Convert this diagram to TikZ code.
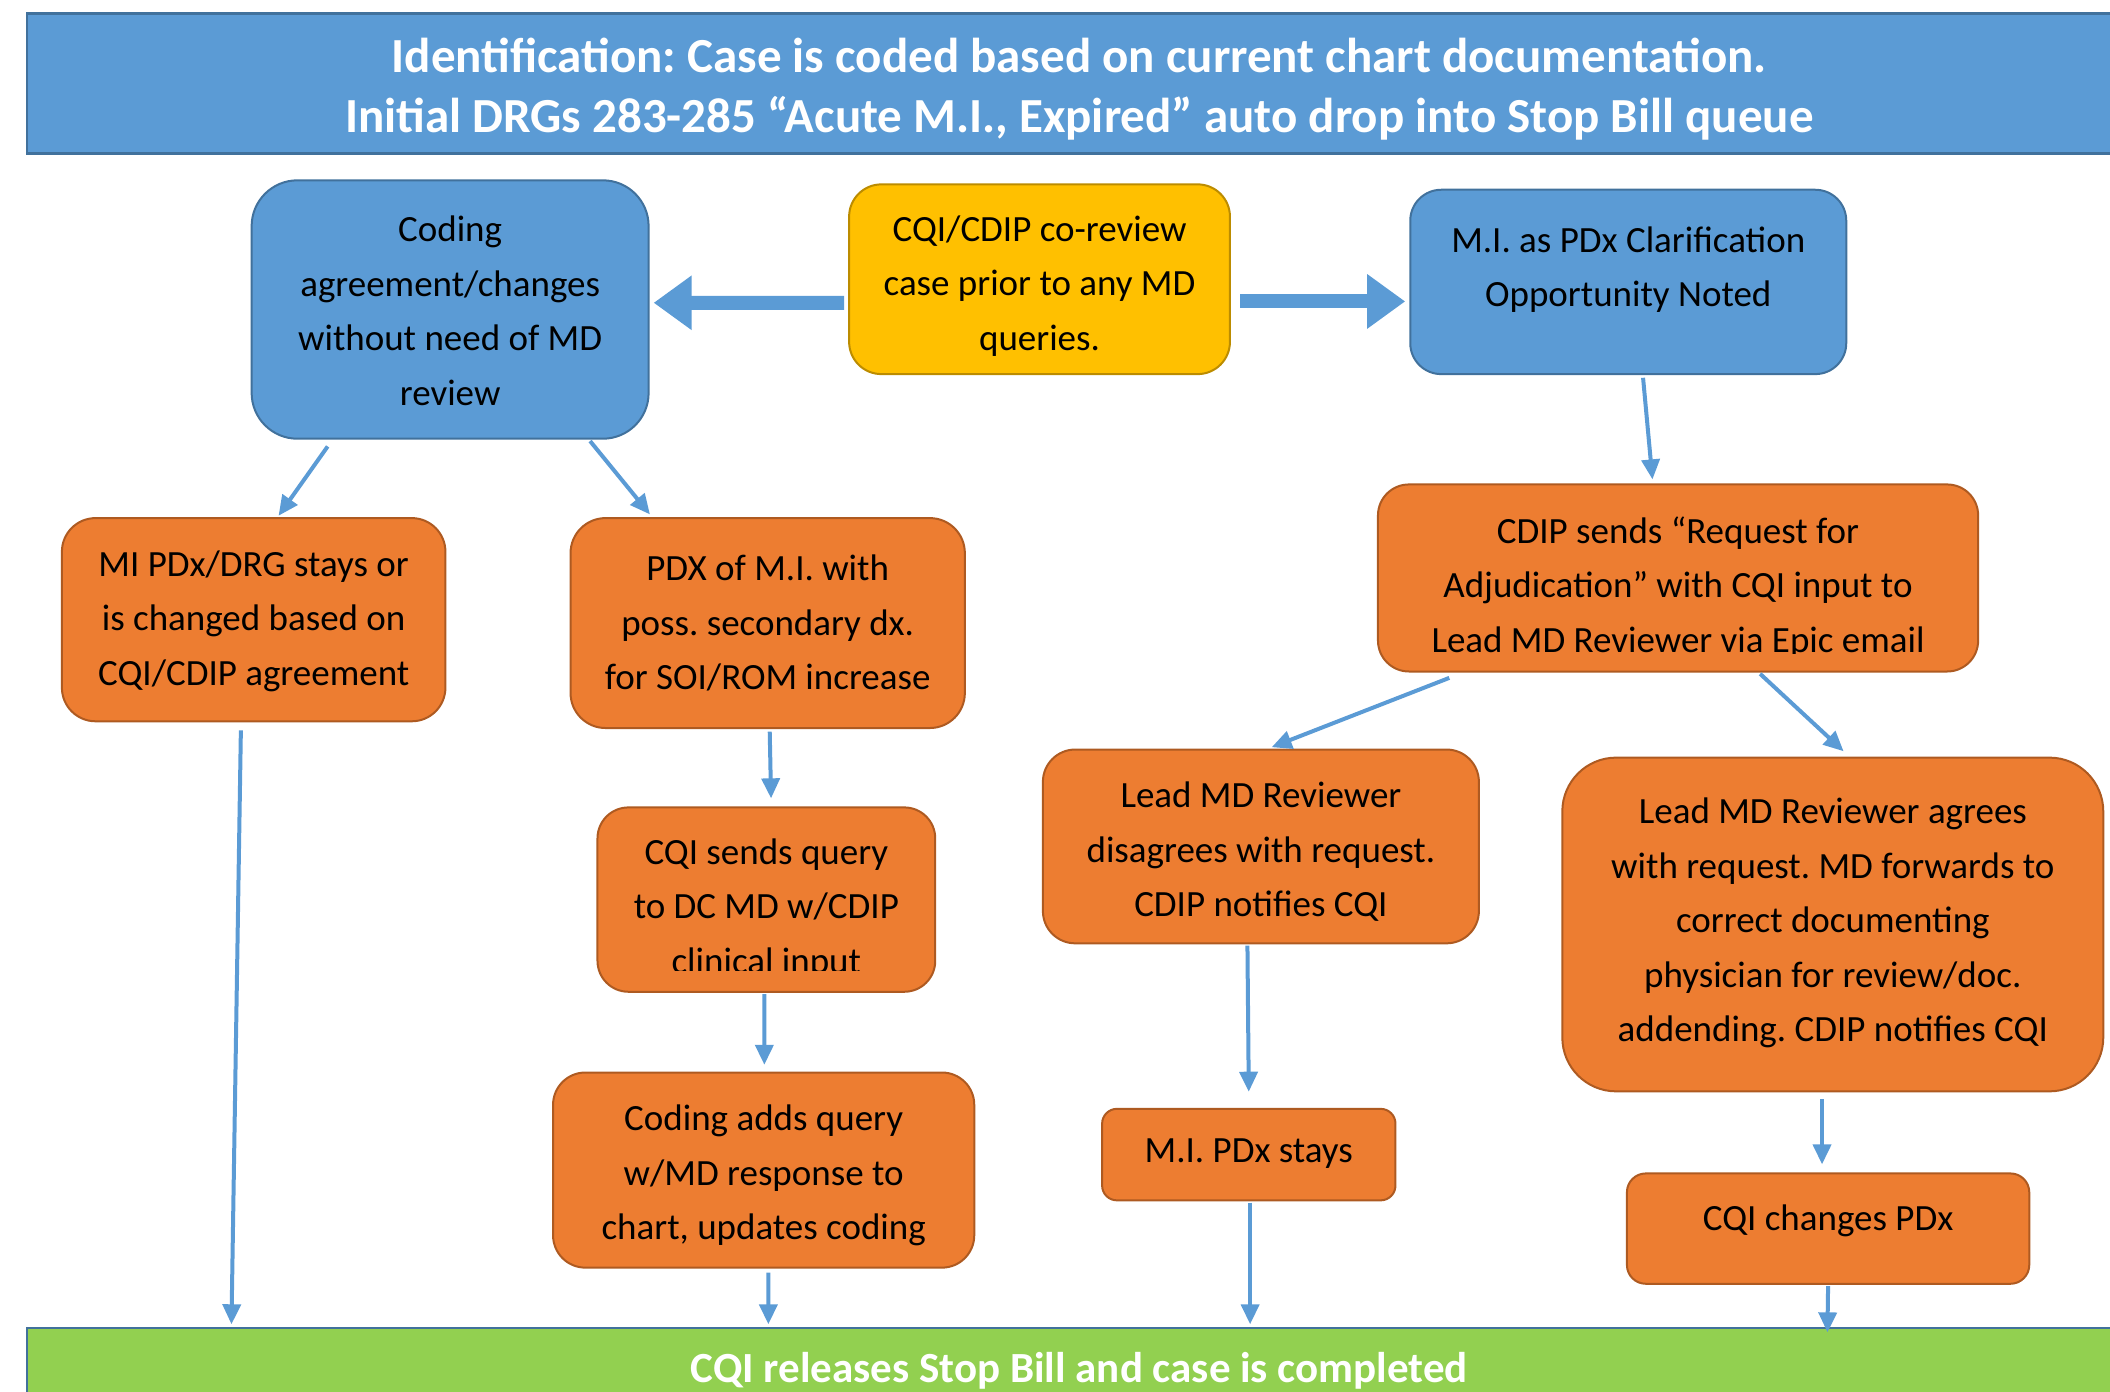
\documentclass[tikz,border=0pt]{standalone}
\usepackage{fontspec}
\setmainfont{Carlito}
\usetikzlibrary{arrows.meta,calc}
\definecolor{bluef}{HTML}{5B9BD5}
\definecolor{blued}{HTML}{41719C}
\definecolor{orangef}{HTML}{ED7D31}
\definecolor{oranged}{HTML}{AE5A21}
\definecolor{yellowf}{HTML}{FFC000}
\definecolor{yellowd}{HTML}{BC8C00}
\definecolor{greenf}{HTML}{92D050}
\definecolor{arrowc}{HTML}{5B9BD5}
\def\spx{0.6729pt}
\frenchspacing
\begin{document}
\frenchspacing
\begin{tikzpicture}[x=0.6729pt,y=-0.6729pt,
  box/.style={draw, inner sep=0pt, line width=1pt},
  tx/.style={align=center, inner sep=0pt, text=black, font={\frenchspacing\fontsize{18.5}{27.25}\selectfont}},
  bluebox/.style={box, fill=bluef, draw=blued},
  orangebox/.style={box, fill=orangef, draw=oranged},
  yellowbox/.style={box, fill=yellowf, draw=yellowd},
  sz/.style n args={3}{minimum width=#1*\spx, minimum height=#2*\spx, rounded corners=#3*\spx},
  flow/.style={draw=arrowc, line width=2pt, -{Triangle[length=10pt,width=9pt]}},
  bigflow/.style={draw=arrowc, line width=7pt, -{Triangle[length=19pt,width=26pt]}},
  banner/.style={draw=blued, line width=1.2pt, text=white, align=center, inner sep=0pt}]
\useasboundingbox (0,0) rectangle (1568,1034);

\node[banner, fill=bluef, minimum width=1564*\spx, minimum height=104*\spx] (head) at (802,62) {};
\node[banner, draw=none, text=white, font={\frenchspacing\bfseries\fontsize{24.5}{30}\selectfont}] (headT) at (802,66)
  {Identification: Case is coded based on current chart documentation.\\Initial DRGs 283-285 “Acute M.I., Expired” auto drop into Stop Bill queue};
\node[banner, fill=greenf, minimum width=1564*\spx, minimum height=64*\spx,
  font={\frenchspacing\bfseries\fontsize{21.5}{30}\selectfont}] (footer) at (802,1019)
  {CQI releases Stop Bill and case is completed};

% boxes
\node[bluebox, sz={295}{192}{34}] (coding) at (334.5,230) {};
\node[tx] (codingT) at ($(coding)+(0,1)$) {Coding\\agreement/changes\\without need of MD\\review};
\node[yellowbox, sz={283}{141}{24}] (corev) at (772.5,207.5) {};
\node[tx] (corevT) at ($(corev)+(0,5)$) {CQI/CDIP co-review\\case prior to any MD\\queries.};
\node[bluebox, sz={324}{137}{23}] (mipdx) at (1210,209.5) {};
\node[tx] (mipdxT) at ($(mipdx)+(0,-9)$) {M.I. as PDx Clarification\\Opportunity Noted};
\node[orangebox, sz={285}{151}{25}] (stays) at (188.5,460.5) {};
\node[tx] (staysT) at ($(stays)+(0,1)$) {MI PDx/DRG stays or\\is changed based on\\CQI/CDIP agreement};
\node[orangebox, sz={293}{156}{26}] (pdx) at (570.5,463) {};
\node[tx] (pdxT) at ($(pdx)+(0,0)$) {PDX of M.I. with\\poss. secondary dx.\\for SOI/ROM increase};
\node[orangebox, sz={251}{137}{23}] (query) at (569.5,668.5) {};
\begin{scope}
  \clip (440,600) rectangle (700,721.5);
  \node[tx] (queryT) at ($(query)+(0,7)$) {CQI sends query\\to DC MD w/CDIP\\clinical input};
\end{scope}
\node[orangebox, sz={313}{145}{24}] (adds) at (567.5,869.5) {};
\node[tx] (addsT) at ($(adds)+(0,4)$) {Coding adds query\\w/MD response to\\chart, updates coding};
\node[orangebox, sz={446}{139}{23}] (adj) at (1247,429.5) {};
\begin{scope}
  \clip (1020,360) rectangle (1475,485.5);
  \node[tx] (adjT) at ($(adj)+(0,7)$) {CDIP sends “Request for\\Adjudication” with CQI input to\\Lead MD Reviewer via Epic email};
\end{scope}
\node[orangebox, sz={324}{144}{24}] (disagree) at (937,629) {};
\node[tx] (disagreeT) at ($(disagree)+(0,4)$) {Lead MD Reviewer\\disagrees with request.\\CDIP notifies CQI};
\node[orangebox, sz={402}{248}{40}] (agree) at (1362,687) {};
\node[tx] (agreeT) at ($(agree)+(0,-1)$) {Lead MD Reviewer agrees\\with request. MD forwards to\\correct documenting\\physician for review/doc.\\addending. CDIP notifies CQI};
\node[orangebox, sz={218}{68}{11}] (stays2) at (928,858) {};
\node[tx] (stays2T) at ($(stays2)+(0,-1)$) {M.I. PDx stays};
\node[orangebox, sz={299}{82}{14}] (changes) at (1358.5,913) {};
\node[tx] (changesT) at ($(changes)+(0,-6)$) {CQI changes PDx};

% connectors
\draw[bigflow] ($(corev.west)+(-3,17.5)$) -- ($(coding.east)+(3,-5)$);
\draw[bigflow] ($(corev.east)+(7,16.5)$) -- ($(mipdx.west)+(-3,14.5)$);

\draw[flow] ($(coding.south)+(-91,5)$) -- ($(stays.north)+(18.5,-1)$);
\draw[flow] ($(coding.south)+(104,1)$) -- ($(pdx.north)+(-87.5,-2)$);
\draw[flow] ($(mipdx.south)+(11,2)$) -- ($(adj.north)+(-19,-3)$);
\draw[flow] ($(adj.south)+(-170,4)$) -- ($(disagree.north)+(8,-1)$);
\draw[flow] ($(adj.south)+(61,1)$) -- ($(agree.north)+(8,-4)$);
\draw[flow] ($(stays.south)+(-9.5,6)$) -- ($(footer.north)+(-630,-2)$);
\draw[flow] ($(pdx.south)+(1.5,2)$) -- ($(query.north)+(3.5,-6)$);
\draw[flow] ($(query.south)+(-1.5,1)$) -- ($(adds.north)+(0.5,-5)$);
\draw[flow] ($(adds.south)+(3.5,3)$) -- ($(footer.north)+(-231,-2)$);
\draw[flow] ($(disagree.south)+(-10,1)$) -- ($(stays2.north)+(0,-12)$);
\draw[flow] ($(stays2.south)+(1,1)$) -- ($(footer.north)+(127,-2)$);
\draw[flow] ($(agree.south)+(-8,5)$) -- ($(changes.north)+(-4.5,-6)$);
\draw[flow] ($(changes.south)+(0,1)$) -- ($(footer.north)+(556,4)$);
\end{tikzpicture}
\end{document}
